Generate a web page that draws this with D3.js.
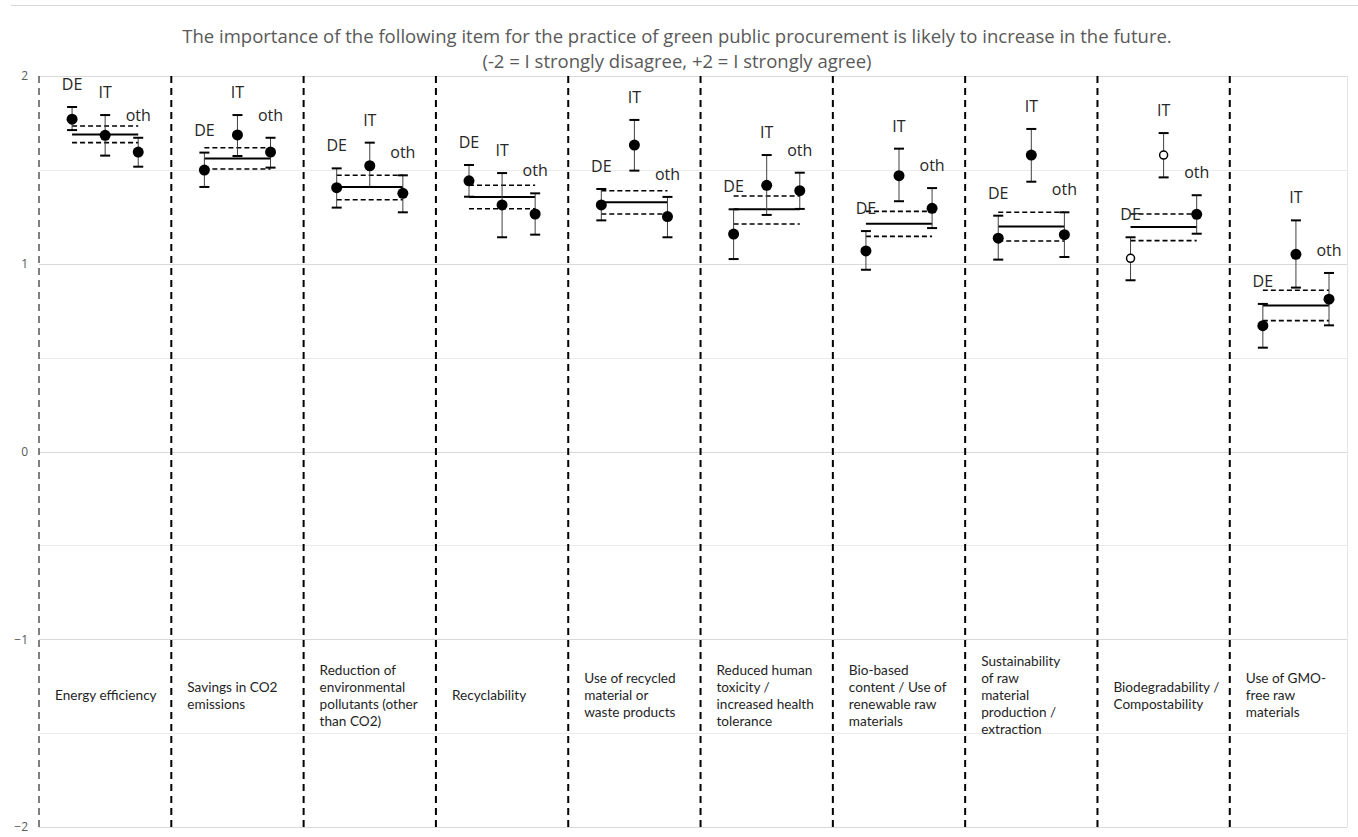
<!DOCTYPE html>
<html>
<head>
<meta charset="utf-8">
<script src="https://cdn.jsdelivr.net/npm/d3@7"></script>
<style>
  html, body { margin: 0; padding: 0; background: #fff; }
  svg { display: block; }
</style>
</head>
<body>
<svg id="chart" width="1358" height="837"></svg>
<script>
// Category labels, one entry per column, pre-wrapped into lines
const categories = [
  ["Energy efficiency"],
  ["Savings in CO2", "emissions"],
  ["Reduction of", "environmental", "pollutants (other", "than CO2)"],
  ["Recyclability"],
  ["Use of recycled", "material or", "waste products"],
  ["Reduced human", "toxicity  /", "increased health", "tolerance"],
  ["Bio-based", "content / Use of", "renewable raw", "materials"],
  ["Sustainability", "of raw", "material", "production /", "extraction"],
  ["Biodegradability /", "Compostability"],
  ["Use of GMO-", "free raw", "materials"]
];

// Group means with lower / upper interval bounds
const deMean  = [1.770, 1.499, 1.405, 1.442, 1.313, 1.158, 1.068, 1.136, 1.029, 0.670];
const deLow   = [1.712, 1.409, 1.299, 1.357, 1.231, 1.025, 0.968, 1.022, 0.912, 0.553];
const deHigh  = [1.835, 1.592, 1.508, 1.526, 1.398, 1.290, 1.174, 1.256, 1.141, 0.786];

const itMean  = [1.684, 1.686, 1.522, 1.313, 1.632, 1.418, 1.469, 1.579, 1.579, 1.050];
const itLow   = [1.576, 1.574, 1.409, 1.141, 1.496, 1.260, 1.333, 1.437, 1.460, 0.873];
const itHigh  = [1.792, 1.792, 1.645, 1.483, 1.766, 1.579, 1.613, 1.718, 1.696, 1.231];

const othMean = [1.595, 1.595, 1.375, 1.265, 1.251, 1.389, 1.295, 1.155, 1.263, 0.811];
const othLow  = [1.517, 1.512, 1.274, 1.155, 1.141, 1.292, 1.190, 1.036, 1.160, 0.672];
const othHigh = [1.671, 1.671, 1.471, 1.375, 1.356, 1.485, 1.403, 1.274, 1.365, 0.951];

// Pooled mean over all respondents and its interval
const allMean = [1.688, 1.561, 1.409, 1.356, 1.327, 1.290, 1.213, 1.199, 1.196, 0.777];
const allLow  = [1.645, 1.505, 1.341, 1.293, 1.265, 1.212, 1.146, 1.121, 1.123, 0.697];
const allHigh = [1.734, 1.618, 1.471, 1.418, 1.389, 1.361, 1.279, 1.274, 1.265, 0.859];

// Markers drawn hollow (DE and IT of Biodegradability)
const deHollow = [false, false, false, false, false, false, false, false, true, false];
const itHollow = [false, false, false, false, false, false, false, false, true, false];

const groupNames = ["DE", "IT", "oth"];
const yTicks = [-2, -1, 0, 1, 2];
const yGrid = [-2, -1.5, -1, -0.5, 0, 0.5, 1, 1.5, 2];
const titleLines = [
  "The importance of the following item for the practice of green public procurement is likely to increase in the future.",
  "(-2 = I strongly disagree, +2 = I strongly agree)"
];

const svg = d3.select("#chart");
const W = 1358;

// Column axis: column i spans [i, i+1]; groups sit at quarter positions
const x = d3.scaleLinear().domain([0, 9.886]).range([39, 1347]);
const y = d3.scaleLinear().domain([-2, 2]).range([827, 76]);

// Outer frame line
svg.append("line")
  .attr("x1", 11).attr("x2", W).attr("y1", 5.5).attr("y2", 5.5)
  .attr("stroke", "#d9d9d9").attr("stroke-width", 1);

// Title, two separate lines
svg.append("g")
  .attr("font-family", "'Open Sans', sans-serif")
  .attr("font-size", 18.5)
  .attr("fill", "#595959")
  .attr("text-anchor", "middle")
  .selectAll("text")
  .data(titleLines)
  .join("text")
  .attr("x", 677)
  .attr("y", (d, i) => 43 + i * 25)
  .text(d => d);

// Horizontal gridlines
svg.append("g").selectAll("line")
  .data(yGrid)
  .join("line")
  .attr("x1", x(0)).attr("x2", x(9.886))
  .attr("y1", d => Math.round(y(d)) + 0.5).attr("y2", d => Math.round(y(d)) + 0.5)
  .attr("stroke", d => Number.isInteger(d) ? "#d9d9d9" : "#ebebeb")
  .attr("stroke-width", 1);

// Right plot border
svg.append("line")
  .attr("x1", x(9.886) + 0.5).attr("x2", x(9.886) + 0.5)
  .attr("y1", y(2)).attr("y2", y(-2))
  .attr("stroke", "#e6e6e6").attr("stroke-width", 1);

// Y axis tick labels
const yAxis = d3.axisLeft(y).tickValues(yTicks).tickSize(0).tickPadding(0).tickFormat(d3.format("d"));
const gy = svg.append("g").attr("transform", "translate(28,0)").call(yAxis);
gy.select(".domain").remove();
gy.selectAll("text")
  .attr("font-family", "'Open Sans', sans-serif")
  .attr("font-size", 12)
  .attr("fill", "#595959");

// Column separators (left axis drawn as thin dashes)
svg.append("line")
  .attr("x1", x(0)).attr("x2", x(0))
  .attr("y1", y(2)).attr("y2", y(-2))
  .attr("stroke", "#000").attr("stroke-width", 1)
  .attr("stroke-dasharray", "7,5");
svg.append("g").selectAll("line")
  .data(d3.range(1, categories.length))
  .join("line")
  .attr("x1", d => x(d)).attr("x2", d => x(d))
  .attr("y1", y(2)).attr("y2", y(-2))
  .attr("stroke", "#000").attr("stroke-width", 2)
  .attr("stroke-dasharray", "7,5");

// Category labels inside each column
const catG = svg.append("g")
  .attr("font-family", "Lato, 'Open Sans', sans-serif")
  .attr("font-size", 13.6)
  .attr("fill", "#1f1f1f");
categories.forEach((lines, i) => {
  const lh = 17;
  const y0 = y(-1.3) + 4.5 - (lines.length - 1) * lh / 2;
  const t = catG.append("text");
  lines.forEach((ln, j) => {
    t.append("tspan").attr("x", x(i) + 16).attr("y", y0 + j * lh).text(ln);
  });
});

// Pooled mean (solid) and interval (dashed) spanning DE..oth positions
const pooled = svg.append("g");
categories.forEach((_, i) => {
  const x1 = x(i + 0.25), x2 = x(i + 0.75);
  pooled.append("line")
    .attr("x1", x1).attr("x2", x2)
    .attr("y1", y(allMean[i])).attr("y2", y(allMean[i]))
    .attr("stroke", "#000").attr("stroke-width", 2);
  [allLow[i], allHigh[i]].forEach(v => {
    pooled.append("line")
      .attr("x1", x1).attr("x2", x2)
      .attr("y1", y(v)).attr("y2", y(v))
      .attr("stroke", "#000").attr("stroke-width", 1.6)
      .attr("stroke-dasharray", "5,3");
  });
});

// Group markers with error bars and labels
const groups = [
  { name: groupNames[0], off: 0.25, mean: deMean, low: deLow, high: deHigh, hollow: deHollow },
  { name: groupNames[1], off: 0.5, mean: itMean, low: itLow, high: itHigh, hollow: itHollow },
  { name: groupNames[2], off: 0.75, mean: othMean, low: othLow, high: othHigh, hollow: categories.map(() => false) }
];

const marks = svg.append("g");
groups.forEach(g => {
  categories.forEach((_, i) => {
    const cx = x(i + g.off);
    // whisker
    marks.append("line")
      .attr("x1", cx).attr("x2", cx)
      .attr("y1", y(g.low[i])).attr("y2", y(g.high[i]))
      .attr("stroke", "#404040").attr("stroke-width", 1);
    // caps
    [g.low[i], g.high[i]].forEach(v => {
      marks.append("line")
        .attr("x1", cx - 5).attr("x2", cx + 5)
        .attr("y1", y(v)).attr("y2", y(v))
        .attr("stroke", "#000").attr("stroke-width", 2);
    });
    // marker
    if (g.hollow[i]) {
      marks.append("circle")
        .attr("cx", cx).attr("cy", y(g.mean[i])).attr("r", 4)
        .attr("fill", "#fff").attr("stroke", "#000").attr("stroke-width", 1.5);
    } else {
      marks.append("circle")
        .attr("cx", cx).attr("cy", y(g.mean[i])).attr("r", 5.5)
        .attr("fill", "#000");
    }
    // group label above the upper bound
    marks.append("text")
      .attr("x", cx).attr("y", y(g.high[i]) - 17)
      .attr("text-anchor", "middle")
      .attr("font-family", "'Open Sans', sans-serif")
      .attr("font-size", 16)
      .attr("fill", "#262626")
      .text(g.name);
  });
});
</script>
</body>
</html>
